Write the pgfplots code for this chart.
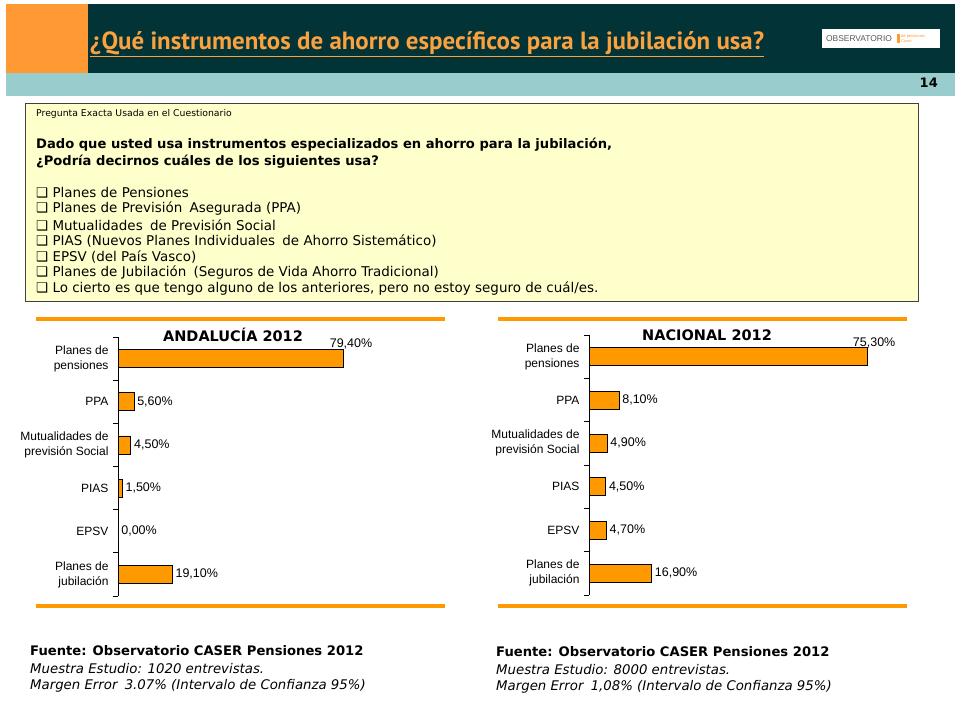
\documentclass[border=0pt]{standalone}
\usepackage{pgfplots}
\pgfplotsset{compat=1.18}
\usepackage{fontspec}
\setmainfont{DejaVu Sans}
\newfontfamily\lab{Liberation Sans}
\newfontfamily\ttl{PT Sans}
\definecolor{blkorange}{HTML}{FF9933}
\definecolor{darkteal}{HTML}{013337}
\definecolor{lightteal}{HTML}{99CCCC}
\definecolor{titleor}{HTML}{FBA13E}
\definecolor{qyellow}{HTML}{FFFFCC}
\definecolor{barorange}{HTML}{FF9900}
\definecolor{lineorange}{HTML}{FF9900}
\begin{document}
\begin{tikzpicture}
% page
\fill[white] (0,0) rectangle (960pt,720pt);
% header
\fill[blkorange] (6pt,647pt) rectangle (88pt,716pt);
\fill[darkteal] (88pt,647pt) rectangle (955pt,716pt);
\fill[lightteal] (6pt,624pt) rectangle (955pt,647pt);
\node[anchor=east, inner sep=0pt, font=\bfseries\fontsize{13}{15}\selectfont] at (938pt,637pt) {14};
\node[anchor=west, inner sep=0pt, text=titleor, font=\ttl\bfseries\fontsize{24.9}{28}\selectfont] at (90pt,676pt) {\underline{¿Qué instrumentos de ahorro específicos para la jubilación usa?}};
% logo
\fill[white] (822pt,672pt) rectangle (940pt,691pt);
\node[anchor=west, inner sep=0pt, text=black!65, font=\lab\fontsize{8.4}{10}\selectfont] at (826pt,681.5pt) {OBSERVATORIO};
\fill[blkorange] (897pt,677pt) rectangle (900pt,686pt);
\node[anchor=west, inner sep=0pt, text=blkorange, font=\lab\fontsize{4}{4.5}\selectfont, align=left] at (901pt,681.5pt) {de pensiones\\Caser};
% question box
\draw[fill=qyellow, draw=black!75, line width=1pt] (25pt,418pt) rectangle (918pt,616pt);
\node[anchor=west, inner sep=0pt, font=\fontsize{9.3}{11}\selectfont] at (36pt,606pt) {Pregunta Exacta Usada en el Cuestionario};
\node[anchor=west, inner sep=0pt, font=\bfseries\fontsize{13.1}{15}\selectfont] at (36pt,575pt) {Dado que usted usa instrumentos especializados en ahorro para la jubilación,};
\node[anchor=west, inner sep=0pt, font=\bfseries\fontsize{13.1}{15}\selectfont] at (36pt,558pt) {¿Podría decirnos cuáles de los siguientes usa?};
\begin{scope}[every node/.style={anchor=west, inner sep=0pt, font=\fontsize{13.45}{15}\selectfont}]
\node at (36pt,527pt) {❑ Planes de Pensiones};
\node at (36pt,511pt) {❑ Planes de Previsión\hspace{3pt} Asegurada (PPA)};
\node at (36pt,495pt) {❑ Mutualidades\hspace{3pt} de Previsión Social};
\node at (36pt,479pt) {❑ PIAS (Nuevos Planes Individuales\hspace{3pt} de Ahorro Sistemático)};
\node at (36pt,463pt) {❑ EPSV (del País Vasco)};
\node at (36pt,447pt) {❑ Planes de Jubilación\hspace{3pt} (Seguros de Vida Ahorro Tradicional)};
\node at (36pt,431pt) {❑ Lo cierto es que tengo alguno de los anteriores, pero no estoy seguro de cuál/es.};
\end{scope}
% orange separator lines
\draw[lineorange, line width=4pt] (36pt,401pt) -- (445pt,401pt);
\draw[lineorange, line width=4pt] (36pt,114pt) -- (445pt,114pt);
\draw[lineorange, line width=4pt] (498pt,401pt) -- (907pt,401pt);
\draw[lineorange, line width=4pt] (498pt,114pt) -- (907pt,114pt);
% chart titles
\node[font=\bfseries\fontsize{14.5}{17}\selectfont, inner sep=0pt] at (233pt,385pt) {ANDALUCÍA 2012};
\node[font=\bfseries\fontsize{14.5}{17}\selectfont, inner sep=0pt] at (707pt,385pt) {NACIONAL 2012};
\pgfplotsset{
  mybars/.style={
    scale only axis, anchor=south west,
    xmin=0, xmax=100, ymin=-0.5, ymax=5.5, y dir=reverse,
    axis x line=none, axis y line*=left,
    y axis line style={-, line width=0.8pt, black},
    ytick={-0.5,0.5,...,5.5}, yticklabels={},
    tick align=outside, major tick length=5pt,
    tick style={black, line width=0.8pt},
    extra y ticks={0,1,2,3,4,5},
    extra y tick labels={{Planes de\\pensiones},PPA,{Mutualidades de\\previsión Social},PIAS,EPSV,{Planes de\\jubilación}},
    extra y tick style={major tick length=0pt, tick style={draw=none}},
    yticklabel style={align=right, font=\lab\fontsize{12}{15}\selectfont, xshift=-6pt},
    clip=false,
  },
  valbar/.style={xbar, bar width=18pt, bar shift=0pt, fill=barorange, draw=black, line width=0.7pt,
    point meta=x,
    nodes near coords={\pgfmathprintnumber[fixed, fixed zerofill, precision=2, use comma, assume math mode=true]{\pgfplotspointmeta}\%},
    nodes near coords style={font=\lab\fontsize{12.5}{15}\selectfont, inner sep=3pt, text=black}},
}
% left chart
\begin{axis}[mybars, at={(118pt,124pt)}, width=284pt, height=259pt]
\addplot[valbar] coordinates {(5.6,1) (4.5,2) (1.5,3) (0,4) (19.1,5)};
\addplot[valbar, nodes near coords style={xshift=-17pt, yshift=15pt}] coordinates {(79.4,0)};
\end{axis}
% right chart
\begin{axis}[mybars, at={(589pt,125pt)}, width=370pt, height=260pt]
\addplot[valbar] coordinates {(8.1,1) (4.9,2) (4.5,3) (4.7,4) (16.9,5)};
\addplot[valbar, nodes near coords style={xshift=-18pt, yshift=14pt}] coordinates {(75.3,0)};
\end{axis}
% sources
\begin{scope}[every node/.style={anchor=west, inner sep=0pt}]
\node[font=\bfseries\fontsize{13.15}{15}\selectfont] at (30pt,69pt) {Fuente: Observatorio CASER Pensiones 2012};
\node[font=\itshape\fontsize{13.3}{15}\selectfont] at (30pt,51pt) {Muestra Estudio: 1020 entrevistas.};
\node[font=\itshape\fontsize{13.3}{15}\selectfont] at (30pt,34pt) {Margen Error\hspace{3pt} 3.07\% (Intervalo de Confianza 95\%)};
\node[font=\bfseries\fontsize{13.15}{15}\selectfont] at (496pt,68pt) {Fuente: Observatorio CASER Pensiones 2012};
\node[font=\itshape\fontsize{13.3}{15}\selectfont] at (496pt,50pt) {Muestra Estudio: 8000 entrevistas.};
\node[font=\itshape\fontsize{13.3}{15}\selectfont] at (496pt,33pt) {Margen Error\hspace{3pt} 1,08\% (Intervalo de Confianza 95\%)};
\end{scope}
\end{tikzpicture}
\end{document}
